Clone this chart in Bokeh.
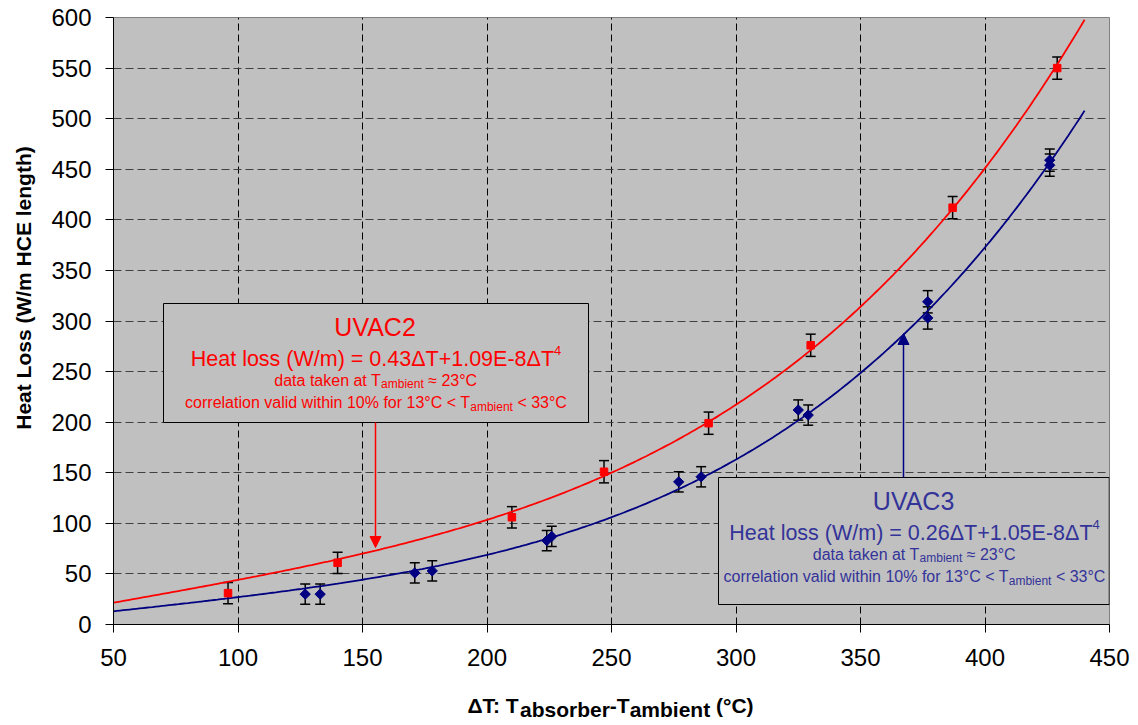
import numpy as np
from math import pi
from bokeh.plotting import figure
from bokeh.layouts import row, column
from bokeh.core.properties import value
from bokeh.models import (Range1d, FixedTicker, ColumnDataSource, Whisker, TeeHead,
                          BoxAnnotation, Arrow, NormalHead, Label)
from bokeh.embed import file_html
from bokeh.resources import INLINE

# ---------------- data ----------------
X_TICKS = [50, 100, 150, 200, 250, 300, 350, 400, 450]
Y_TICKS = [0, 50, 100, 150, 200, 250, 300, 350, 400, 450, 500, 550, 600]

UVAC2_DT = [96, 140, 210, 247, 289, 330, 387, 429]
UVAC2_LOSS = [31, 61, 106, 151, 199, 276, 412, 550]
UVAC2_ERR = [10.5, 10.5, 10.5, 11, 11, 11, 11, 11]

UVAC3_DT = [127, 133, 171, 178, 224, 226, 277, 286, 325, 329, 377, 377, 426, 426]
UVAC3_LOSS = [30, 30, 51, 53, 83, 87, 141, 146, 212, 207, 319, 303, 459, 454]
UVAC3_ERR = [10, 10, 10, 10, 10, 10, 10, 10, 10, 10, 11, 11, 11, 11]

# correlation coefficients printed in the chart: loss = a*dT + b*dT^4
UVAC2_COEF = [0.43, 1.09e-8]
UVAC3_COEF = [0.26, 1.05e-8]
FIT_RANGE = [50, 440]

Y_TITLE = "Heat Loss (W/m HCE length)"
X_TITLE_RUNS = ["ΔT: T", "absorber", "-T", "ambient", " (°C)"]

RED = "#FF0000"
NAVY = "#000080"
BLUE_TXT = "#333399"
FONT = "Liberation Sans"

# ---------------- layout geometry (page pixels) ----------------
TOTAL_W, TOTAL_H = 1130, 725
LW = 41                      # left strip (y title)
FRAME_L, FRAME_R, FRAME_T, FRAME_B = 113, 1109, 17, 624
MAIN_W = TOTAL_W - LW
MAIN_H = 679
ML = FRAME_L - LW
MR = TOTAL_W - FRAME_R
MT = FRAME_T
MB = MAIN_H - FRAME_B
BOT_H = TOTAL_H - MAIN_H

# ---------------- main figure ----------------
p = figure(width=MAIN_W, height=MAIN_H, output_backend="svg", toolbar_location=None,
           x_range=Range1d(50, 450), y_range=Range1d(0, 600),
           min_border_left=ML, min_border_right=MR, min_border_top=MT,
           min_border_bottom=MB, title=None)
p.background_fill_color = "#C0C0C0"
p.border_fill_color = "white"
p.outline_line_color = "#808080"
p.outline_line_width = 1

for ax, ticks in ((p.xaxis, X_TICKS), (p.yaxis, Y_TICKS)):
    ax.ticker = FixedTicker(ticks=ticks)
    ax.minor_tick_line_color = None
    ax.major_tick_in = 0
    ax.major_tick_out = 8
    ax.major_tick_line_color = "black"
    ax.axis_line_color = "black"
    ax.axis_line_width = 1
    ax.major_label_text_font = FONT
    ax.major_label_text_font_size = "24px"
    ax.major_label_text_color = "black"
p.yaxis.major_label_standoff = 14
p.xaxis.major_label_standoff = 16

p.xgrid.grid_line_color = "black"
p.xgrid.grid_line_dash = "7 4"
p.xgrid.grid_line_width = 1
p.ygrid.grid_line_color = "#404040"
p.ygrid.grid_line_dash = "8 4"
p.ygrid.grid_line_width = 1.2

# ---------------- fitted curves ----------------
dt = np.linspace(FIT_RANGE[0], FIT_RANGE[1], 300)
fit2 = UVAC2_COEF[0] * dt + UVAC2_COEF[1] * dt ** 4
fit3 = UVAC3_COEF[0] * dt + UVAC3_COEF[1] * dt ** 4
p.line(dt, fit2, line_color=RED, line_width=1.8)
p.line(dt, fit3, line_color=NAVY, line_width=1.8)

# ---------------- error bars + markers ----------------
for xs, ys, es in ((UVAC2_DT, UVAC2_LOSS, UVAC2_ERR), (UVAC3_DT, UVAC3_LOSS, UVAC3_ERR)):
    src = ColumnDataSource(dict(x=xs, upper=[y + e for y, e in zip(ys, es)],
                                lower=[y - e for y, e in zip(ys, es)]))
    p.add_layout(Whisker(source=src, base="x", upper="upper", lower="lower",
                         line_color="black", line_width=1.5,
                         upper_head=TeeHead(size=10, line_color="black", line_width=1.5),
                         lower_head=TeeHead(size=10, line_color="black", line_width=1.5)))

p.scatter(UVAC2_DT, UVAC2_LOSS, marker="square", size=7.5, fill_color=RED, line_color=RED)
p.scatter(UVAC3_DT, UVAC3_LOSS, marker="square", angle=pi / 4, size=7.3,
          fill_color=NAVY, line_color=NAVY)

# ---------------- pixel helpers (page coords -> data) ----------------
SX = (FRAME_R - FRAME_L) / 400.0
SY = (FRAME_B - FRAME_T) / 600.0


def px_x(px):
    return 50 + (px - FRAME_L) / SX


def py_y(py):
    return (FRAME_B - py) / SY


REG = {' ': .278, '(': .333, ')': .333, '/': .278, '=': .584, '+': .584, '-': .333,
       '.': .278, '%': .889, '°': .4, '<': .584, '≈': .584, ':': .278, 'Δ': .668,
       'a': .556, 'b': .556, 'c': .5, 'd': .556, 'e': .556, 'f': .278, 'g': .556,
       'h': .556, 'i': .222, 'k': .5, 'l': .222, 'm': .833, 'n': .556, 'o': .556,
       'r': .333, 's': .5, 't': .278, 'v': .5, 'w': .722, 'A': .667, 'C': .722,
       'E': .667, 'H': .722, 'T': .611, 'U': .722, 'V': .667, 'W': .944}
BOLD = {' ': .278, '(': .333, ')': .333, ':': .333, '-': .333, '°': .4, 'Δ': .668,
        'a': .556, 'b': .611, 'e': .556, 'i': .278, 'm': .889, 'n': .611, 'o': .611,
        'r': .389, 's': .556, 't': .333, 'T': .611, 'C': .722}


def tw(s, size, bold=False):
    tab = BOLD if bold else REG
    return sum(tab.get(c, .556) for c in s) * size


def layout_runs(items, cx, bold=False):
    """Return (x_left_px, text, size, dy) for runs centred on cx."""
    total = sum(tw(t, s, bold) for t, s, dy in items)
    x = cx - total / 2
    out = []
    for t, s, dy in items:
        lead = len(t) - len(t.lstrip())
        out.append((x + tw(t[:lead], s, bold), t.strip(), s, dy))
        x += tw(t, s, bold)
    return out


def runs(items, cx, base, color):
    for xl, t, s, dy in layout_runs(items, cx):
        p.add_layout(Label(x=px_x(xl), y=py_y(base + dy), text=t,
                           text_font=FONT, text_font_size=f"{s}px",
                           text_color=color, text_align="left",
                           text_baseline="alphabetic"))


# ---------------- annotation boxes ----------------
def box(l, t, r, b, cx, name, eq, color):
    p.add_layout(BoxAnnotation(left=px_x(l), right=min(px_x(r), 449.9),
                               top=py_y(t), bottom=py_y(b),
                               fill_color="#C0C0C0", fill_alpha=1.0,
                               line_color="black", line_width=1, line_alpha=1.0))
    runs([(name, 25, 0)], cx, t + 23, color)
    runs([(eq, 21.5, 0), ("4", 13, -9)], cx, t + 55.5, color)
    runs([("data taken at T", 16, 0), ("ambient", 12, 4), (" ≈ 23°C", 16, 0)],
         cx, t + 76.5, color)
    runs([("correlation valid within 10% for 13°C < T", 16, 0), ("ambient", 12, 4),
          (" < 33°C", 16, 0)], cx, t + 99, color)


box(163, 303, 588, 422, 375.5, "UVAC2", "Heat loss (W/m) = 0.43ΔT+1.09E-8ΔT", RED)
box(718, 477, 1119, 604, 914, "UVAC3", "Heat loss (W/m) = 0.26ΔT+1.05E-8ΔT", BLUE_TXT)

p.add_layout(Arrow(end=NormalHead(size=11, fill_color=RED, line_color=RED),
                   x_start=px_x(375), y_start=py_y(422), x_end=px_x(375), y_end=py_y(547),
                   line_color=RED, line_width=1.5))
p.add_layout(Arrow(end=NormalHead(size=11, fill_color=NAVY, line_color=NAVY),
                   x_start=px_x(903), y_start=py_y(477), x_end=px_x(903), y_end=py_y(333),
                   line_color=NAVY, line_width=1.5))


# ---------------- strips for axis titles ----------------
def strip(w, h, x_range, y0):
    # y expressed as TOTAL_H - page_y
    f = figure(width=w, height=h, output_backend="svg", toolbar_location=None,
               x_range=x_range, y_range=Range1d(TOTAL_H - y0 - h, TOTAL_H - y0),
               x_axis_location=None, y_axis_location=None,
               min_border=0, title=None)
    f.grid.visible = False
    f.outline_line_color = None
    f.background_fill_color = "white"
    f.border_fill_color = "white"
    return f


left = strip(LW, TOTAL_H, Range1d(0, LW), 0)
left.text(x=[23], y=[TOTAL_H - 287.5], text=[Y_TITLE], angle=pi / 2,
          text_align="center", text_baseline="middle",
          text_font=value(FONT), text_font_size=value("21px"),
          text_font_style="bold", text_color="black")

# the bottom strip's frame is aligned with the main frame by the column layout,
# so it shares the main x range
bottom = strip(MAIN_W, BOT_H, p.x_range, MAIN_H)
x_runs = layout_runs([(X_TITLE_RUNS[0], 21, 0), (X_TITLE_RUNS[1], 21, 4),
                      (X_TITLE_RUNS[2], 21, 0), (X_TITLE_RUNS[3], 21, 4),
                      (X_TITLE_RUNS[4], 21, 0)], 610, bold=True)
X_BASE = 705
bottom.text(x=[px_x(r[0]) for r in x_runs], y=[TOTAL_H - (X_BASE + r[3]) for r in x_runs],
            text=[r[1] for r in x_runs], text_align="left", text_baseline="alphabetic",
            text_font=value(FONT), text_font_size=value("21px"),
            text_font_style="bold", text_color="black")

page = row(left, column(p, bottom))
open("out.html", "w").write(file_html(page, INLINE))
